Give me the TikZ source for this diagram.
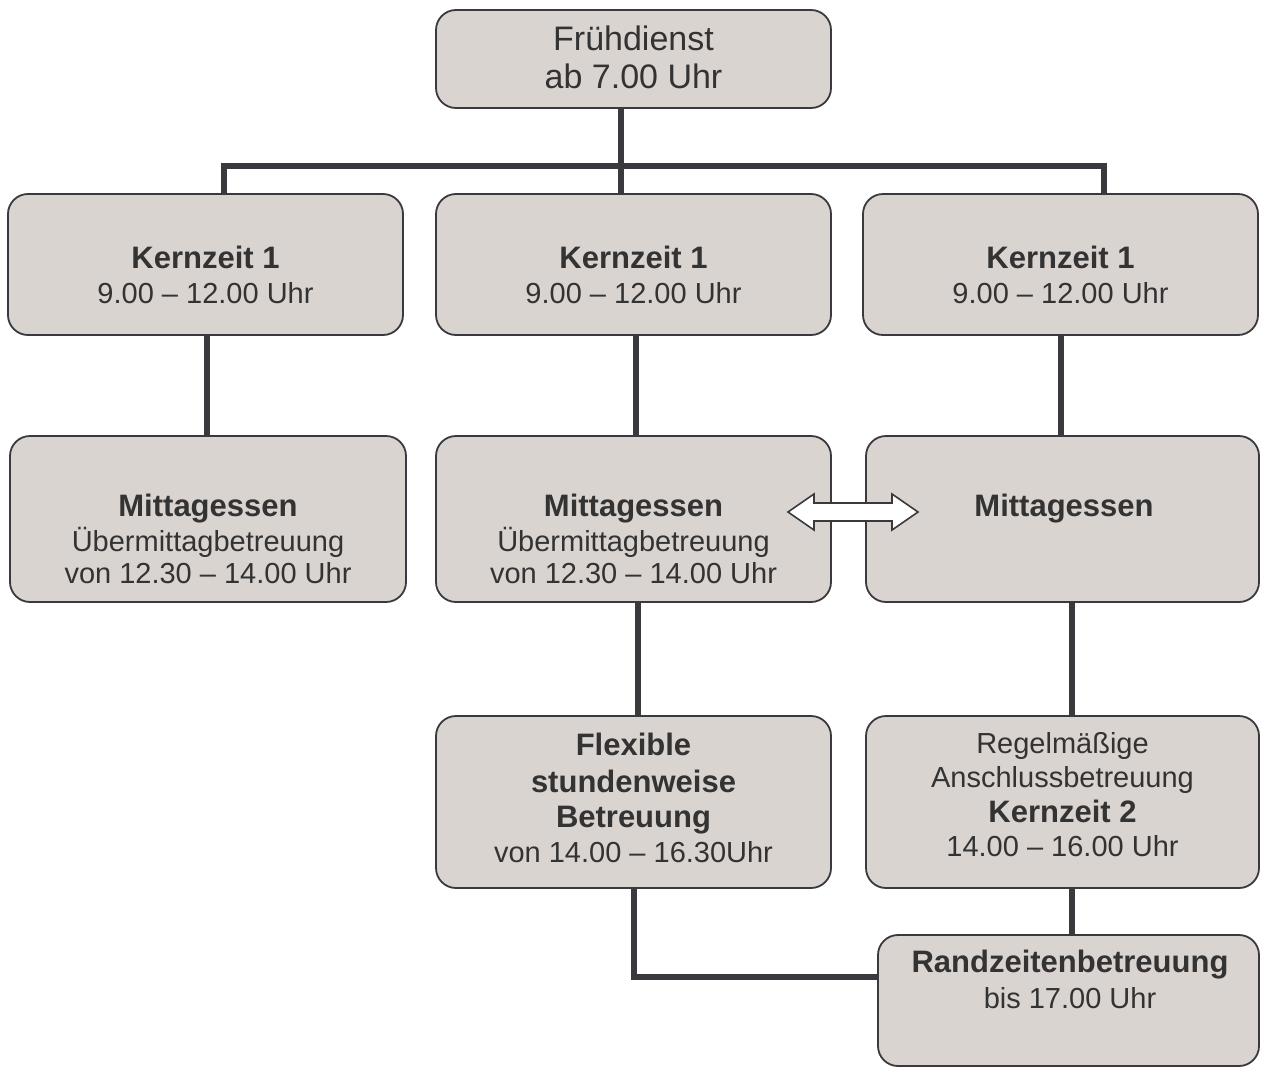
\documentclass[tikz,border=0pt]{standalone}
\usepackage{fontspec}
\setmainfont{Liberation Sans}
\usetikzlibrary{calc}
\definecolor{boxfill}{HTML}{DAD4D1}
\definecolor{edgec}{HTML}{3A393E}
\definecolor{txtc}{HTML}{333333}
\newcommand\regf{\fontsize{29}{35}\selectfont}
\newcommand\boldf{\fontsize{31}{36}\selectfont\bfseries}
\newcommand\fdf{\fontsize{34}{38}\selectfont}
\tikzset{
  box/.style={draw=edgec, line width=1.8pt, fill=boxfill, rounded corners=20pt, inner sep=0pt},
  conn/.style={draw=edgec, line width=6pt},
  txt/.style={text=txtc, inner sep=0pt, anchor=base, font=\regf},
  btxt/.style={txt, font=\boldf},
  ftxt/.style={txt, font=\fdf},
  dblarrow/.style={draw=edgec, line width=1.6pt, fill=white, line join=miter},
}
\begin{document}
\begin{tikzpicture}[x=1pt,y=-1pt]
\useasboundingbox (0,0) rectangle (1261,1068);
% connectors (drawn first, behind boxes)
\coordinate (busL) at (224,166);
\coordinate (busR) at (1104,166);
% boxes
\node[box, minimum width=395pt, minimum height=98pt]  (fd) at (633.5,59) {};
\node[box, minimum width=395pt, minimum height=141pt] (k1) at (205.5,264.5) {};
\node[box, minimum width=395pt, minimum height=141pt] (k2) at (633.5,264.5) {};
\node[box, minimum width=395pt, minimum height=141pt] (k3) at (1060.5,264.5) {};
\node[box, minimum width=396pt, minimum height=166pt] (m1) at (208,519) {};
\node[box, minimum width=395pt, minimum height=166pt] (m2) at (633.5,519) {};
\node[box, minimum width=393pt, minimum height=166pt] (m3) at (1062.5,519) {};
\node[box, minimum width=395pt, minimum height=172pt] (f)  at (633.5,802) {};
\node[box, minimum width=393pt, minimum height=172pt] (r)  at (1062.5,802) {};
\node[box, minimum width=381pt, minimum height=131pt] (rz) at (1068.5,1000.5) {};
% connectors
\draw[conn] ([xshift=-12.5pt]fd.south) -- ([xshift=-12.5pt]k2.north);
\draw[conn] (busL |- k1.north) -- (busL) -- (busR) -- (busR |- k3.north);
\draw[conn] ([xshift=1.5pt]k1.south) -- ([xshift=1.5pt]k1.south |- m1.north);
\draw[conn] ([xshift=2.5pt]k2.south) -- ([xshift=2.5pt]m2.north);
\draw[conn] (k3.south) -- (k3.south |- m3.north);
\draw[conn] ([xshift=4.5pt]m2.south) -- ([xshift=4.5pt]f.north);
\draw[conn] ([xshift=9.5pt]m3.south) -- ([xshift=9.5pt]r.north);
\draw[conn] ([xshift=9.5pt]r.south) -- ([xshift=9.5pt]r.south |- rz.north);
\draw[conn] ([xshift=0.5pt]f.south) |- ([yshift=23.5pt]rz.west);
% double arrow between the Mittagessen boxes
\coordinate (ac) at (853,512);
\draw[dblarrow] (788,512) -- (814,494) -- (814,503) -- (892,503) -- (892,494) -- (918,512)
  -- (892,530) -- (892,521) -- (814,521) -- (814,530) -- cycle;
% texts
\node[ftxt] (fd1) at (633.5,50) {Frühdienst};
\node[ftxt] (fd2) at (633.5,88) {ab 7.00 Uhr};
\node[btxt] (k1a) at (205.5,268) {Kernzeit 1};
\node[txt]  (k1b) at (205.5,303) {9.00 – 12.00 Uhr};
\node[btxt] (k2a) at (633.5,268) {Kernzeit 1};
\node[txt]  (k2b) at (633.5,303) {9.00 – 12.00 Uhr};
\node[btxt] (k3a) at (1060.5,268) {Kernzeit 1};
\node[txt]  (k3b) at (1060.5,303) {9.00 – 12.00 Uhr};
\node[btxt] (m1a) at (208,516) {Mittagessen};
\node[txt]  (m1b) at (208,551) {Übermittagbetreuung};
\node[txt]  (m1c) at (208,583) {von 12.30 – 14.00 Uhr};
\node[btxt] (m2a) at (633.5,516) {Mittagessen};
\node[txt]  (m2b) at (633.5,551) {Übermittagbetreuung};
\node[txt]  (m2c) at (633.5,583) {von 12.30 – 14.00 Uhr};
\node[btxt] (m3a) at (1064,516) {Mittagessen};
\node[btxt] (fa) at (633.5,755) {Flexible};
\node[btxt] (fb) at (633.5,792) {stundenweise};
\node[btxt] (fc) at (633.5,827) {Betreuung};
\node[txt]  (fdd) at (633.5,862) {von 14.00 – 16.30Uhr};
\node[txt]  (ra) at (1062.5,753) {Regelmäßige};
\node[txt]  (rb) at (1062.5,787) {Anschlussbetreuung};
\node[btxt] (rc) at (1062.5,822) {Kernzeit 2};
\node[txt]  (rd) at (1062.5,856) {14.00 – 16.00 Uhr};
\node[btxt] (rza) at (1070,972) {Randzeitenbetreuung};
\node[txt]  (rzb) at (1070,1008) {bis 17.00 Uhr};
\end{tikzpicture}
\end{document}
